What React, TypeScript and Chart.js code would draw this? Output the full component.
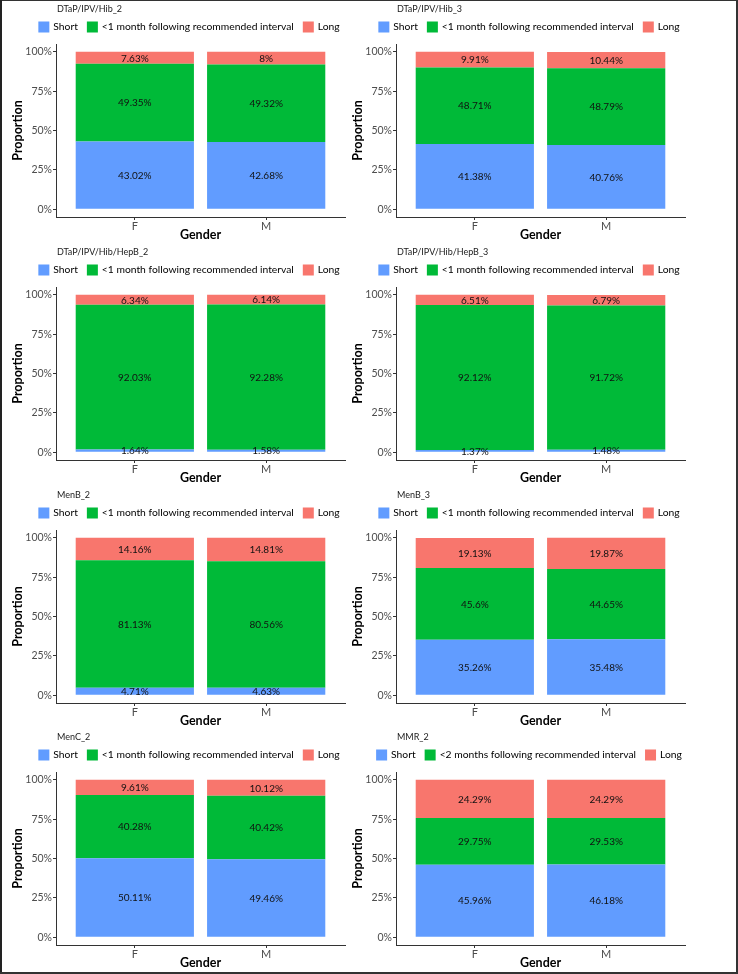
import React, { useEffect, useRef } from 'react';
import { Chart, registerables } from 'chart.js';

Chart.register(...registerables);

// ---------- data ----------
const genders = ['F', 'M'];
const genderPositions = [1, 2];
const panelTitles = [
  'DTaP/IPV/Hib_2',
  'DTaP/IPV/Hib_3',
  'DTaP/IPV/Hib/HepB_2',
  'DTaP/IPV/Hib/HepB_3',
  'MenB_2',
  'MenB_3',
  'MenC_2',
  'MMR_2',
];
const shortLabel = 'Short';
const longLabel = 'Long';
const middleLabels = [
  '<1 month following recommended interval',
  '<1 month following recommended interval',
  '<1 month following recommended interval',
  '<1 month following recommended interval',
  '<1 month following recommended interval',
  '<1 month following recommended interval',
  '<1 month following recommended interval',
  '<2 months following recommended interval',
];
const shortValues = [
  [43.02, 42.68],
  [41.38, 40.76],
  [1.64, 1.58],
  [1.37, 1.48],
  [4.71, 4.63],
  [35.26, 35.48],
  [50.11, 49.46],
  [45.96, 46.18],
];
const middleValues = [
  [49.35, 49.32],
  [48.71, 48.79],
  [92.03, 92.28],
  [92.12, 91.72],
  [81.13, 80.56],
  [45.6, 44.65],
  [40.28, 40.42],
  [29.75, 29.53],
];
const longValues = [
  [7.63, 8],
  [9.91, 10.44],
  [6.34, 6.14],
  [6.51, 6.79],
  [14.16, 14.81],
  [19.13, 19.87],
  [9.61, 10.12],
  [24.29, 24.29],
];
const yTickValues = [0, 25, 50, 75, 100];

// ---------- styles ----------
const FONT = "Lato, 'Open Sans', sans-serif";
const COLOR_SHORT = '#619CFF';
const COLOR_MID = '#00BA38';
const COLOR_LONG = '#F8766D';
const AXIS_COLOR = '#333333';
const TICK_TEXT = '#4D4D4D';
const W = 378;
const H = 243;
const PANEL_LEFTS = [0, 340];
const PANEL_TOPS = [0, 243, 486, 728];

const segmentLabels = {
  id: 'segmentLabels',
  afterDatasetsDraw(chart: any) {
    const ctx = chart.ctx;
    ctx.save();
    ctx.font = `10px ${FONT}`;
    ctx.fillStyle = '#111111';
    ctx.textAlign = 'center';
    ctx.textBaseline = 'middle';
    chart.data.datasets.forEach((ds: any, di: number) => {
      const meta = chart.getDatasetMeta(di);
      meta.data.forEach((el: any, i: number) => {
        const v = ds.data[i].y;
        const { x, y, base } = el.getProps(['x', 'y', 'base'], true);
        ctx.fillText(`${v}%`, x, (y + base) / 2 + 0.5);
      });
    });
    ctx.restore();
  },
};

const panelHeader = {
  id: 'panelHeader',
  afterDraw(chart: any, _args: any, opts: any) {
    const ctx = chart.ctx;
    const area = chart.chartArea;
    ctx.save();
    // title
    ctx.font = `9px ${FONT}`;
    ctx.fillStyle = '#1a1a1a';
    ctx.textAlign = 'left';
    ctx.textBaseline = 'middle';
    ctx.fillText(opts.title, area.left + 1, 9);
    // legend
    const box = 11;
    const gap = 4;
    const itemGap = 9;
    ctx.font = `10.3px ${FONT}`;
    const items = chart.data.datasets.map((ds: any) => ({
      label: ds.label,
      color: ds.backgroundColor,
      w: ctx.measureText(ds.label).width,
    }));
    const total =
      items.reduce((s: number, it: any) => s + box + gap + it.w, 0) + itemGap * (items.length - 1);
    let x = opts.legendCenter - total / 2;
    const cy = 27;
    items.forEach((it: any) => {
      ctx.fillStyle = it.color;
      ctx.fillRect(x, cy - box / 2, box, box);
      ctx.fillStyle = '#000000';
      ctx.fillText(it.label, x + box + gap, cy);
      x += box + gap + it.w + itemGap;
    });
    ctx.restore();
  },
};

function makeConfig(idx: number): any {
  const toPoints = (vals: number[]) => vals.map((v, i) => ({ x: genderPositions[i], y: v }));
  return {
    type: 'bar',
    data: {
      datasets: [
        { label: shortLabel, data: toPoints(shortValues[idx]), backgroundColor: COLOR_SHORT, stack: 'all' },
        { label: middleLabels[idx], data: toPoints(middleValues[idx]), backgroundColor: COLOR_MID, stack: 'all' },
        { label: longLabel, data: toPoints(longValues[idx]), backgroundColor: COLOR_LONG, stack: 'all' },
      ],
    },
    options: {
      responsive: false,
      animation: false,
      devicePixelRatio: 1,
      barPercentage: 0.9,
      categoryPercentage: 1,
      layout: { padding: { top: 44, right: 33, left: 0, bottom: 0 } },
      plugins: {
        legend: { display: false },
        title: { display: false },
        tooltip: { enabled: false },
        panelHeader: { title: panelTitles[idx], legendCenter: 189 },
      },
      scales: {
        x: {
          type: 'linear',
          min: 0.4,
          max: 2.6,
          offset: false,
          bounds: 'data',
          afterBuildTicks: (scale: any) => {
            scale.ticks = genderPositions.map((v) => ({ value: v }));
          },
          afterFit: (scale: any) => {
            scale.height = 26;
          },
          ticks: {
            callback: (v: number) => genders[genderPositions.indexOf(v)] ?? '',
            color: TICK_TEXT,
            font: { family: FONT, size: 11 },
            padding: 0,
            maxRotation: 0,
          },
          grid: {
            display: true,
            offset: false,
            drawOnChartArea: false,
            drawTicks: true,
            tickLength: 3,
            color: AXIS_COLOR,
          },
          border: { display: true, color: AXIS_COLOR, width: 1 },
          title: {
            display: true,
            text: 'Gender',
            color: '#000000',
            font: { family: FONT, size: 12.5, weight: 'bold' },
            padding: { top: 0, bottom: 1 },
          },
        },
        y: {
          stacked: true,
          min: -5,
          max: 105,
          bounds: 'data',
          afterBuildTicks: (scale: any) => {
            scale.ticks = yTickValues.map((v) => ({ value: v }));
          },
          afterFit: (scale: any) => {
            scale.width = 56;
          },
          ticks: {
            callback: (v: number) => `${v}%`,
            color: TICK_TEXT,
            font: { family: FONT, size: 10.5 },
            padding: 1,
          },
          grid: {
            display: true,
            drawOnChartArea: false,
            drawTicks: true,
            tickLength: 3,
            color: AXIS_COLOR,
          },
          border: { display: true, color: AXIS_COLOR, width: 1 },
          title: {
            display: true,
            text: 'Proportion',
            color: '#000000',
            font: { family: FONT, size: 12.5, weight: 'bold' },
            padding: { top: 10, bottom: 0 },
          },
        },
      },
    },
    plugins: [segmentLabels, panelHeader],
  };
}

function Panel({ idx, left, top }: { idx: number; left: number; top: number }) {
  const ref = useRef<HTMLCanvasElement>(null);
  useEffect(() => {
    if (!ref.current) return;
    const chart = new Chart(ref.current, makeConfig(idx));
    return () => chart.destroy();
  }, [idx]);
  return (
    <div style={{ position: 'absolute', left, top, width: W, height: H }}>
      <canvas ref={ref} width={W} height={H} style={{ width: W, height: H, display: 'block' }} />
    </div>
  );
}

export default function App() {
  return (
    <div
      style={{
        position: 'fixed',
        left: 0,
        top: 0,
        width: 738,
        height: 974,
        background: '#ffffff',
        overflow: 'hidden',
        fontFamily: FONT,
      }}
    >
      {panelTitles.map((_, i) => (
        <Panel key={i} idx={i} left={PANEL_LEFTS[i % 2]} top={PANEL_TOPS[Math.floor(i / 2)]} />
      ))}
      <div style={{ position: 'absolute', left: 0, top: 0, width: 738, height: 1, background: '#333' }} />
      <div style={{ position: 'absolute', left: 0, top: 0, width: 2, height: 974, background: '#222' }} />
      <div style={{ position: 'absolute', left: 736, top: 0, width: 2, height: 974, background: '#333' }} />
      <div style={{ position: 'absolute', left: 0, top: 972, width: 738, height: 2, background: '#333' }} />
    </div>
  );
}
